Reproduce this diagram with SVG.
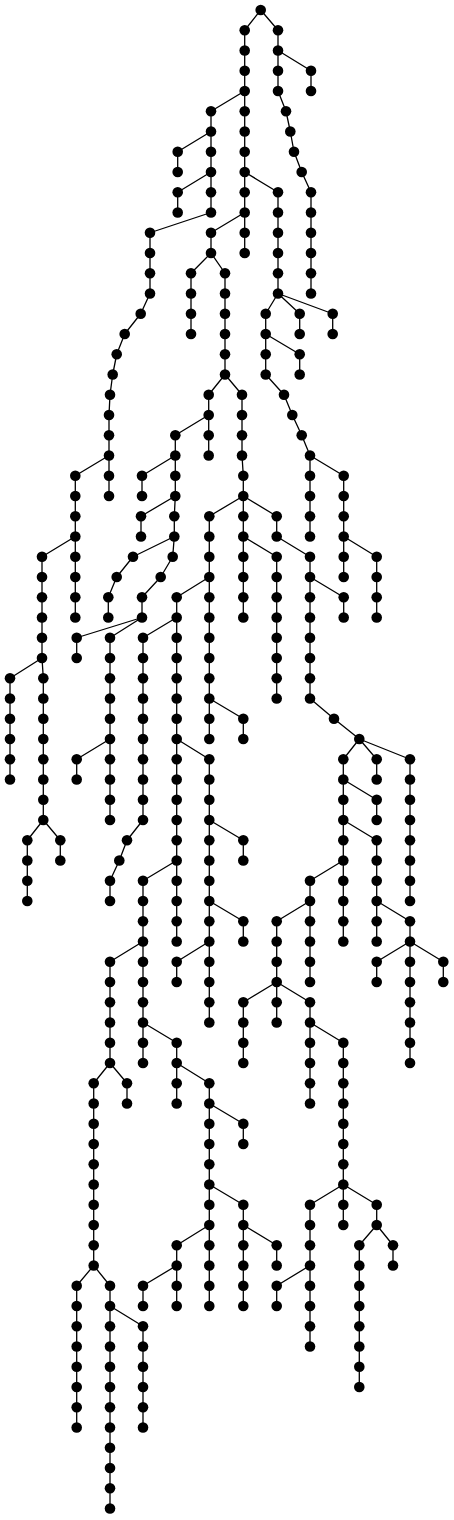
<svg xmlns="http://www.w3.org/2000/svg" width="454" height="1520" viewBox="0 0 454 1520">
<style>
.e polyline{fill:none;stroke:#000;stroke-width:1.3;stroke-linejoin:round}
.n circle{fill:#000}
</style>
<rect width="454" height="1520" fill="#fff"/>
<g id="connectors" class="e">
<polyline points="260.7,10 244.7,30.25 244.7,253"/>
<polyline points="260.7,10 278,30.25 278,91 286,111.25 290.3,131.5 294,151.75 301.7,172 311,192.25 311,293.5"/>
<polyline points="278,50.5 311,70.75 311,91"/>
<polyline points="244.7,91 211,111.25 211,212.5 150,232.75 150,293.5 140.7,313.75 124.7,334 116.7,354.25 112.7,374.5 110,394.75 109,415 109,496"/>
<polyline points="211,131.5 177.7,151.75 177.7,172"/>
<polyline points="211,172 177.7,192.25 177.7,212.5"/>
<polyline points="109,455.5 75.3,475.75 75.3,617.5"/>
<polyline points="75.3,536.5 42,556.75 42,658 43.3,678.25 43.3,820 60.3,840.25 60.3,860.5"/>
<polyline points="42,658 10,678.25 10,779.5"/>
<polyline points="43.3,820 27.3,840.25 27.3,901"/>
<polyline points="244.7,172 278,192.25 278,293.5 265.7,313.75 265.7,374.5 284,394.75 292.3,415 301.7,435.25 310,455.5 310,536.5"/>
<polyline points="278,293.5 299.7,313.75 299.7,334"/>
<polyline points="278,293.5 332.7,313.75 332.7,334"/>
<polyline points="265.7,334 299.7,354.25 299.7,374.5"/>
<polyline points="310,455.5 343.7,475.75 343.7,577"/>
<polyline points="343.7,536.5 376.7,556.75 376.7,617.5"/>
<polyline points="244.7,212.5 211,232.75 211,253 225,273.25 225,374.5 242,394.75 242,455.5 243.3,475.75 243.3,617.5"/>
<polyline points="211,253 191,273.25 191,334"/>
<polyline points="225,374.5 208.7,394.75 208.7,455.5"/>
<polyline points="208.7,415 175.3,435.25 175.3,496 174.3,516.25 174.3,536.5 172.7,556.75 160.7,577 142,597.25 142,617.5 110,637.75 110,820"/>
<polyline points="175.3,455.5 142,475.75 142,496"/>
<polyline points="175.3,496 141,516.25 141,536.5"/>
<polyline points="174.3,536.5 133,556.75 116.7,577 108.3,597.25 108.3,617.5"/>
<polyline points="142,617.5 76.7,637.75 76.7,658"/>
<polyline points="110,739 76.7,759.25 76.7,779.5"/>
<polyline points="243.3,496 209.3,516.25 209.3,739"/>
<polyline points="209.3,698.5 243.3,718.75 243.3,739"/>
<polyline points="209.3,577 176.7,597.25 176.7,941.5"/>
<polyline points="176.7,617.5 143,637.75 143,820 127,840.25 119.3,860.5 110,880.75 110,901"/>
<polyline points="176.7,739 209.3,759.25 209.3,1022.5"/>
<polyline points="209.3,820 243.3,840.25 243.3,860.5"/>
<polyline points="209.3,901 243.3,921.25 243.3,941.5"/>
<polyline points="209.3,941.5 176.7,961.75 176.7,982"/>
<polyline points="176.7,860.5 143,880.75 143,1063"/>
<polyline points="143,941.5 110,961.75 110,1063 93.7,1083.25 93.7,1265.5 110,1285.75 110,1508.5"/>
<polyline points="110,1063 127,1083.25 127,1103.5"/>
<polyline points="93.7,1265.5 76.7,1285.75 76.7,1427.5"/>
<polyline points="110,1306 143,1326.25 143,1427.5"/>
<polyline points="143,1022.5 176.7,1042.75 176.7,1063 209.3,1083.25 209.3,1306"/>
<polyline points="176.7,1063 176.7,1103.5"/>
<polyline points="209.3,1103.5 243.3,1123.75 243.3,1144"/>
<polyline points="209.3,1184.5 243.3,1204.75 243.3,1306"/>
<polyline points="243.3,1225 276.7,1245.25 276.7,1265.5"/>
<polyline points="209.3,1225 176.7,1245.25 176.7,1306"/>
<polyline points="176.7,1265.5 143,1285.75 143,1306"/>
<polyline points="243.3,496 276.7,516.25 276.7,536.5 310,556.75 310,698.5 334,718.75 359.3,739 376.7,759.25 376.7,779.5"/>
<polyline points="243.3,536.5 276.7,556.75 276.7,698.5"/>
<polyline points="310,577 343.7,597.25 343.7,617.5"/>
<polyline points="359.3,739 410,759.25 410,901"/>
<polyline points="359.3,739 343.3,759.25 343.3,941.5"/>
<polyline points="343.3,779.5 376.7,799.75 376.7,820"/>
<polyline points="343.3,820 376.7,840.25 376.7,941.5"/>
<polyline points="376.7,901 410,921.25 410,1063"/>
<polyline points="410,941.5 376.7,961.75 376.7,982"/>
<polyline points="410,941.5 443.3,961.75 443.3,982"/>
<polyline points="343.3,860.5 310,880.75 310,982"/>
<polyline points="310,901 276.7,921.25 276.7,1022.5"/>
<polyline points="276.7,982 243.3,1002.25 243.3,1063"/>
<polyline points="276.7,982 310,1002.25 310,1103.5"/>
<polyline points="310,1022.5 343.3,1042.75 343.3,1225"/>
<polyline points="343.3,1184.5 310,1204.75 310,1346.5"/>
<polyline points="310,1265.5 276.7,1285.75 276.7,1306"/>
<polyline points="343.3,1184.5 376.7,1204.75 376.7,1225 359.3,1245.25 359.3,1387"/>
<polyline points="376.7,1225 393,1245.25 393,1265.5"/>
</g>
<g id="nodes" class="n">
<g id="n0"><circle cx="260.7" cy="10" r="5.3"/></g>
<g id="n1"><circle cx="244.7" cy="30.25" r="5.3"/></g>
<g id="n2"><circle cx="244.7" cy="50.5" r="5.3"/></g>
<g id="n3"><circle cx="244.7" cy="70.75" r="5.3"/></g>
<g id="n4"><circle cx="244.7" cy="91" r="5.3"/></g>
<g id="n5"><circle cx="244.7" cy="111.25" r="5.3"/></g>
<g id="n6"><circle cx="244.7" cy="131.5" r="5.3"/></g>
<g id="n7"><circle cx="244.7" cy="151.75" r="5.3"/></g>
<g id="n8"><circle cx="244.7" cy="172" r="5.3"/></g>
<g id="n9"><circle cx="244.7" cy="192.25" r="5.3"/></g>
<g id="n10"><circle cx="244.7" cy="212.5" r="5.3"/></g>
<g id="n11"><circle cx="244.7" cy="232.75" r="5.3"/></g>
<g id="n12"><circle cx="244.7" cy="253" r="5.3"/></g>
<g id="n13"><circle cx="278" cy="30.25" r="5.3"/></g>
<g id="n14"><circle cx="278" cy="50.5" r="5.3"/></g>
<g id="n15"><circle cx="278" cy="70.75" r="5.3"/></g>
<g id="n16"><circle cx="278" cy="91" r="5.3"/></g>
<g id="n17"><circle cx="286" cy="111.25" r="5.3"/></g>
<g id="n18"><circle cx="290.3" cy="131.5" r="5.3"/></g>
<g id="n19"><circle cx="294" cy="151.75" r="5.3"/></g>
<g id="n20"><circle cx="301.7" cy="172" r="5.3"/></g>
<g id="n21"><circle cx="311" cy="192.25" r="5.3"/></g>
<g id="n22"><circle cx="311" cy="212.5" r="5.3"/></g>
<g id="n23"><circle cx="311" cy="232.75" r="5.3"/></g>
<g id="n24"><circle cx="311" cy="253" r="5.3"/></g>
<g id="n25"><circle cx="311" cy="273.25" r="5.3"/></g>
<g id="n26"><circle cx="311" cy="293.5" r="5.3"/></g>
<g id="n27"><circle cx="311" cy="70.75" r="5.3"/></g>
<g id="n28"><circle cx="311" cy="91" r="5.3"/></g>
<g id="n29"><circle cx="211" cy="111.25" r="5.3"/></g>
<g id="n30"><circle cx="211" cy="131.5" r="5.3"/></g>
<g id="n31"><circle cx="211" cy="151.75" r="5.3"/></g>
<g id="n32"><circle cx="211" cy="172" r="5.3"/></g>
<g id="n33"><circle cx="211" cy="192.25" r="5.3"/></g>
<g id="n34"><circle cx="211" cy="212.5" r="5.3"/></g>
<g id="n35"><circle cx="150" cy="232.75" r="5.3"/></g>
<g id="n36"><circle cx="150" cy="253" r="5.3"/></g>
<g id="n37"><circle cx="150" cy="273.25" r="5.3"/></g>
<g id="n38"><circle cx="150" cy="293.5" r="5.3"/></g>
<g id="n39"><circle cx="140.7" cy="313.75" r="5.3"/></g>
<g id="n40"><circle cx="124.7" cy="334" r="5.3"/></g>
<g id="n41"><circle cx="116.7" cy="354.25" r="5.3"/></g>
<g id="n42"><circle cx="112.7" cy="374.5" r="5.3"/></g>
<g id="n43"><circle cx="110" cy="394.75" r="5.3"/></g>
<g id="n44"><circle cx="109" cy="415" r="5.3"/></g>
<g id="n45"><circle cx="109" cy="435.25" r="5.3"/></g>
<g id="n46"><circle cx="109" cy="455.5" r="5.3"/></g>
<g id="n47"><circle cx="109" cy="475.75" r="5.3"/></g>
<g id="n48"><circle cx="109" cy="496" r="5.3"/></g>
<g id="n49"><circle cx="177.7" cy="151.75" r="5.3"/></g>
<g id="n50"><circle cx="177.7" cy="172" r="5.3"/></g>
<g id="n51"><circle cx="177.7" cy="192.25" r="5.3"/></g>
<g id="n52"><circle cx="177.7" cy="212.5" r="5.3"/></g>
<g id="n53"><circle cx="75.3" cy="475.75" r="5.3"/></g>
<g id="n54"><circle cx="75.3" cy="496" r="5.3"/></g>
<g id="n55"><circle cx="75.3" cy="516.25" r="5.3"/></g>
<g id="n56"><circle cx="75.3" cy="536.5" r="5.3"/></g>
<g id="n57"><circle cx="75.3" cy="556.75" r="5.3"/></g>
<g id="n58"><circle cx="75.3" cy="577" r="5.3"/></g>
<g id="n59"><circle cx="75.3" cy="597.25" r="5.3"/></g>
<g id="n60"><circle cx="75.3" cy="617.5" r="5.3"/></g>
<g id="n61"><circle cx="42" cy="556.75" r="5.3"/></g>
<g id="n62"><circle cx="42" cy="577" r="5.3"/></g>
<g id="n63"><circle cx="42" cy="597.25" r="5.3"/></g>
<g id="n64"><circle cx="42" cy="617.5" r="5.3"/></g>
<g id="n65"><circle cx="42" cy="637.75" r="5.3"/></g>
<g id="n66"><circle cx="42" cy="658" r="5.3"/></g>
<g id="n67"><circle cx="43.3" cy="678.25" r="5.3"/></g>
<g id="n68"><circle cx="43.3" cy="698.5" r="5.3"/></g>
<g id="n69"><circle cx="43.3" cy="718.75" r="5.3"/></g>
<g id="n70"><circle cx="43.3" cy="739" r="5.3"/></g>
<g id="n71"><circle cx="43.3" cy="759.25" r="5.3"/></g>
<g id="n72"><circle cx="43.3" cy="779.5" r="5.3"/></g>
<g id="n73"><circle cx="43.3" cy="799.75" r="5.3"/></g>
<g id="n74"><circle cx="43.3" cy="820" r="5.3"/></g>
<g id="n75"><circle cx="60.3" cy="840.25" r="5.3"/></g>
<g id="n76"><circle cx="60.3" cy="860.5" r="5.3"/></g>
<g id="n77"><circle cx="10" cy="678.25" r="5.3"/></g>
<g id="n78"><circle cx="10" cy="698.5" r="5.3"/></g>
<g id="n79"><circle cx="10" cy="718.75" r="5.3"/></g>
<g id="n80"><circle cx="10" cy="739" r="5.3"/></g>
<g id="n81"><circle cx="10" cy="759.25" r="5.3"/></g>
<g id="n82"><circle cx="10" cy="779.5" r="5.3"/></g>
<g id="n83"><circle cx="27.3" cy="840.25" r="5.3"/></g>
<g id="n84"><circle cx="27.3" cy="860.5" r="5.3"/></g>
<g id="n85"><circle cx="27.3" cy="880.75" r="5.3"/></g>
<g id="n86"><circle cx="27.3" cy="901" r="5.3"/></g>
<g id="n87"><circle cx="278" cy="192.25" r="5.3"/></g>
<g id="n88"><circle cx="278" cy="212.5" r="5.3"/></g>
<g id="n89"><circle cx="278" cy="232.75" r="5.3"/></g>
<g id="n90"><circle cx="278" cy="253" r="5.3"/></g>
<g id="n91"><circle cx="278" cy="273.25" r="5.3"/></g>
<g id="n92"><circle cx="278" cy="293.5" r="5.3"/></g>
<g id="n93"><circle cx="265.7" cy="313.75" r="5.3"/></g>
<g id="n94"><circle cx="265.7" cy="334" r="5.3"/></g>
<g id="n95"><circle cx="265.7" cy="354.25" r="5.3"/></g>
<g id="n96"><circle cx="265.7" cy="374.5" r="5.3"/></g>
<g id="n97"><circle cx="284" cy="394.75" r="5.3"/></g>
<g id="n98"><circle cx="292.3" cy="415" r="5.3"/></g>
<g id="n99"><circle cx="301.7" cy="435.25" r="5.3"/></g>
<g id="n100"><circle cx="310" cy="455.5" r="5.3"/></g>
<g id="n101"><circle cx="310" cy="475.75" r="5.3"/></g>
<g id="n102"><circle cx="310" cy="496" r="5.3"/></g>
<g id="n103"><circle cx="310" cy="516.25" r="5.3"/></g>
<g id="n104"><circle cx="310" cy="536.5" r="5.3"/></g>
<g id="n105"><circle cx="299.7" cy="313.75" r="5.3"/></g>
<g id="n106"><circle cx="299.7" cy="334" r="5.3"/></g>
<g id="n107"><circle cx="332.7" cy="313.75" r="5.3"/></g>
<g id="n108"><circle cx="332.7" cy="334" r="5.3"/></g>
<g id="n109"><circle cx="299.7" cy="354.25" r="5.3"/></g>
<g id="n110"><circle cx="299.7" cy="374.5" r="5.3"/></g>
<g id="n111"><circle cx="343.7" cy="475.75" r="5.3"/></g>
<g id="n112"><circle cx="343.7" cy="496" r="5.3"/></g>
<g id="n113"><circle cx="343.7" cy="516.25" r="5.3"/></g>
<g id="n114"><circle cx="343.7" cy="536.5" r="5.3"/></g>
<g id="n115"><circle cx="343.7" cy="556.75" r="5.3"/></g>
<g id="n116"><circle cx="343.7" cy="577" r="5.3"/></g>
<g id="n117"><circle cx="376.7" cy="556.75" r="5.3"/></g>
<g id="n118"><circle cx="376.7" cy="577" r="5.3"/></g>
<g id="n119"><circle cx="376.7" cy="597.25" r="5.3"/></g>
<g id="n120"><circle cx="376.7" cy="617.5" r="5.3"/></g>
<g id="n121"><circle cx="211" cy="232.75" r="5.3"/></g>
<g id="n122"><circle cx="211" cy="253" r="5.3"/></g>
<g id="n123"><circle cx="225" cy="273.25" r="5.3"/></g>
<g id="n124"><circle cx="225" cy="293.5" r="5.3"/></g>
<g id="n125"><circle cx="225" cy="313.75" r="5.3"/></g>
<g id="n126"><circle cx="225" cy="334" r="5.3"/></g>
<g id="n127"><circle cx="225" cy="354.25" r="5.3"/></g>
<g id="n128"><circle cx="225" cy="374.5" r="5.3"/></g>
<g id="n129"><circle cx="242" cy="394.75" r="5.3"/></g>
<g id="n130"><circle cx="242" cy="415" r="5.3"/></g>
<g id="n131"><circle cx="242" cy="435.25" r="5.3"/></g>
<g id="n132"><circle cx="242" cy="455.5" r="5.3"/></g>
<g id="n133"><circle cx="243.3" cy="475.75" r="5.3"/></g>
<g id="n134"><circle cx="243.3" cy="496" r="5.3"/></g>
<g id="n135"><circle cx="243.3" cy="516.25" r="5.3"/></g>
<g id="n136"><circle cx="243.3" cy="536.5" r="5.3"/></g>
<g id="n137"><circle cx="243.3" cy="556.75" r="5.3"/></g>
<g id="n138"><circle cx="243.3" cy="577" r="5.3"/></g>
<g id="n139"><circle cx="243.3" cy="597.25" r="5.3"/></g>
<g id="n140"><circle cx="243.3" cy="617.5" r="5.3"/></g>
<g id="n141"><circle cx="191" cy="273.25" r="5.3"/></g>
<g id="n142"><circle cx="191" cy="293.5" r="5.3"/></g>
<g id="n143"><circle cx="191" cy="313.75" r="5.3"/></g>
<g id="n144"><circle cx="191" cy="334" r="5.3"/></g>
<g id="n145"><circle cx="208.7" cy="394.75" r="5.3"/></g>
<g id="n146"><circle cx="208.7" cy="415" r="5.3"/></g>
<g id="n147"><circle cx="208.7" cy="435.25" r="5.3"/></g>
<g id="n148"><circle cx="208.7" cy="455.5" r="5.3"/></g>
<g id="n149"><circle cx="175.3" cy="435.25" r="5.3"/></g>
<g id="n150"><circle cx="175.3" cy="455.5" r="5.3"/></g>
<g id="n151"><circle cx="175.3" cy="475.75" r="5.3"/></g>
<g id="n152"><circle cx="175.3" cy="496" r="5.3"/></g>
<g id="n153"><circle cx="174.3" cy="516.25" r="5.3"/></g>
<g id="n154"><circle cx="174.3" cy="536.5" r="5.3"/></g>
<g id="n155"><circle cx="172.7" cy="556.75" r="5.3"/></g>
<g id="n156"><circle cx="160.7" cy="577" r="5.3"/></g>
<g id="n157"><circle cx="142" cy="597.25" r="5.3"/></g>
<g id="n158"><circle cx="142" cy="617.5" r="5.3"/></g>
<g id="n159"><circle cx="110" cy="637.75" r="5.3"/></g>
<g id="n160"><circle cx="110" cy="658" r="5.3"/></g>
<g id="n161"><circle cx="110" cy="678.25" r="5.3"/></g>
<g id="n162"><circle cx="110" cy="698.5" r="5.3"/></g>
<g id="n163"><circle cx="110" cy="718.75" r="5.3"/></g>
<g id="n164"><circle cx="110" cy="739" r="5.3"/></g>
<g id="n165"><circle cx="110" cy="759.25" r="5.3"/></g>
<g id="n166"><circle cx="110" cy="779.5" r="5.3"/></g>
<g id="n167"><circle cx="110" cy="799.75" r="5.3"/></g>
<g id="n168"><circle cx="110" cy="820" r="5.3"/></g>
<g id="n169"><circle cx="142" cy="475.75" r="5.3"/></g>
<g id="n170"><circle cx="142" cy="496" r="5.3"/></g>
<g id="n171"><circle cx="141" cy="516.25" r="5.3"/></g>
<g id="n172"><circle cx="141" cy="536.5" r="5.3"/></g>
<g id="n173"><circle cx="133" cy="556.75" r="5.3"/></g>
<g id="n174"><circle cx="116.7" cy="577" r="5.3"/></g>
<g id="n175"><circle cx="108.3" cy="597.25" r="5.3"/></g>
<g id="n176"><circle cx="108.3" cy="617.5" r="5.3"/></g>
<g id="n177"><circle cx="76.7" cy="637.75" r="5.3"/></g>
<g id="n178"><circle cx="76.7" cy="658" r="5.3"/></g>
<g id="n179"><circle cx="76.7" cy="759.25" r="5.3"/></g>
<g id="n180"><circle cx="76.7" cy="779.5" r="5.3"/></g>
<g id="n181"><circle cx="209.3" cy="516.25" r="5.3"/></g>
<g id="n182"><circle cx="209.3" cy="536.5" r="5.3"/></g>
<g id="n183"><circle cx="209.3" cy="556.75" r="5.3"/></g>
<g id="n184"><circle cx="209.3" cy="577" r="5.3"/></g>
<g id="n185"><circle cx="209.3" cy="597.25" r="5.3"/></g>
<g id="n186"><circle cx="209.3" cy="617.5" r="5.3"/></g>
<g id="n187"><circle cx="209.3" cy="637.75" r="5.3"/></g>
<g id="n188"><circle cx="209.3" cy="658" r="5.3"/></g>
<g id="n189"><circle cx="209.3" cy="678.25" r="5.3"/></g>
<g id="n190"><circle cx="209.3" cy="698.5" r="5.3"/></g>
<g id="n191"><circle cx="209.3" cy="718.75" r="5.3"/></g>
<g id="n192"><circle cx="209.3" cy="739" r="5.3"/></g>
<g id="n193"><circle cx="243.3" cy="718.75" r="5.3"/></g>
<g id="n194"><circle cx="243.3" cy="739" r="5.3"/></g>
<g id="n195"><circle cx="176.7" cy="597.25" r="5.3"/></g>
<g id="n196"><circle cx="176.7" cy="617.5" r="5.3"/></g>
<g id="n197"><circle cx="176.7" cy="637.75" r="5.3"/></g>
<g id="n198"><circle cx="176.7" cy="658" r="5.3"/></g>
<g id="n199"><circle cx="176.7" cy="678.25" r="5.3"/></g>
<g id="n200"><circle cx="176.7" cy="698.5" r="5.3"/></g>
<g id="n201"><circle cx="176.7" cy="718.75" r="5.3"/></g>
<g id="n202"><circle cx="176.7" cy="739" r="5.3"/></g>
<g id="n203"><circle cx="176.7" cy="759.25" r="5.3"/></g>
<g id="n204"><circle cx="176.7" cy="779.5" r="5.3"/></g>
<g id="n205"><circle cx="176.7" cy="799.75" r="5.3"/></g>
<g id="n206"><circle cx="176.7" cy="820" r="5.3"/></g>
<g id="n207"><circle cx="176.7" cy="840.25" r="5.3"/></g>
<g id="n208"><circle cx="176.7" cy="860.5" r="5.3"/></g>
<g id="n209"><circle cx="176.7" cy="880.75" r="5.3"/></g>
<g id="n210"><circle cx="176.7" cy="901" r="5.3"/></g>
<g id="n211"><circle cx="176.7" cy="921.25" r="5.3"/></g>
<g id="n212"><circle cx="176.7" cy="941.5" r="5.3"/></g>
<g id="n213"><circle cx="143" cy="637.75" r="5.3"/></g>
<g id="n214"><circle cx="143" cy="658" r="5.3"/></g>
<g id="n215"><circle cx="143" cy="678.25" r="5.3"/></g>
<g id="n216"><circle cx="143" cy="698.5" r="5.3"/></g>
<g id="n217"><circle cx="143" cy="718.75" r="5.3"/></g>
<g id="n218"><circle cx="143" cy="739" r="5.3"/></g>
<g id="n219"><circle cx="143" cy="759.25" r="5.3"/></g>
<g id="n220"><circle cx="143" cy="779.5" r="5.3"/></g>
<g id="n221"><circle cx="143" cy="799.75" r="5.3"/></g>
<g id="n222"><circle cx="143" cy="820" r="5.3"/></g>
<g id="n223"><circle cx="127" cy="840.25" r="5.3"/></g>
<g id="n224"><circle cx="119.3" cy="860.5" r="5.3"/></g>
<g id="n225"><circle cx="110" cy="880.75" r="5.3"/></g>
<g id="n226"><circle cx="110" cy="901" r="5.3"/></g>
<g id="n227"><circle cx="209.3" cy="759.25" r="5.3"/></g>
<g id="n228"><circle cx="209.3" cy="779.5" r="5.3"/></g>
<g id="n229"><circle cx="209.3" cy="799.75" r="5.3"/></g>
<g id="n230"><circle cx="209.3" cy="820" r="5.3"/></g>
<g id="n231"><circle cx="209.3" cy="840.25" r="5.3"/></g>
<g id="n232"><circle cx="209.3" cy="860.5" r="5.3"/></g>
<g id="n233"><circle cx="209.3" cy="880.75" r="5.3"/></g>
<g id="n234"><circle cx="209.3" cy="901" r="5.3"/></g>
<g id="n235"><circle cx="209.3" cy="921.25" r="5.3"/></g>
<g id="n236"><circle cx="209.3" cy="941.5" r="5.3"/></g>
<g id="n237"><circle cx="209.3" cy="961.75" r="5.3"/></g>
<g id="n238"><circle cx="209.3" cy="982" r="5.3"/></g>
<g id="n239"><circle cx="209.3" cy="1002.25" r="5.3"/></g>
<g id="n240"><circle cx="209.3" cy="1022.5" r="5.3"/></g>
<g id="n241"><circle cx="243.3" cy="840.25" r="5.3"/></g>
<g id="n242"><circle cx="243.3" cy="860.5" r="5.3"/></g>
<g id="n243"><circle cx="243.3" cy="921.25" r="5.3"/></g>
<g id="n244"><circle cx="243.3" cy="941.5" r="5.3"/></g>
<g id="n245"><circle cx="176.7" cy="961.75" r="5.3"/></g>
<g id="n246"><circle cx="176.7" cy="982" r="5.3"/></g>
<g id="n247"><circle cx="143" cy="880.75" r="5.3"/></g>
<g id="n248"><circle cx="143" cy="901" r="5.3"/></g>
<g id="n249"><circle cx="143" cy="921.25" r="5.3"/></g>
<g id="n250"><circle cx="143" cy="941.5" r="5.3"/></g>
<g id="n251"><circle cx="143" cy="961.75" r="5.3"/></g>
<g id="n252"><circle cx="143" cy="982" r="5.3"/></g>
<g id="n253"><circle cx="143" cy="1002.25" r="5.3"/></g>
<g id="n254"><circle cx="143" cy="1022.5" r="5.3"/></g>
<g id="n255"><circle cx="143" cy="1042.75" r="5.3"/></g>
<g id="n256"><circle cx="143" cy="1063" r="5.3"/></g>
<g id="n257"><circle cx="110" cy="961.75" r="5.3"/></g>
<g id="n258"><circle cx="110" cy="982" r="5.3"/></g>
<g id="n259"><circle cx="110" cy="1002.25" r="5.3"/></g>
<g id="n260"><circle cx="110" cy="1022.5" r="5.3"/></g>
<g id="n261"><circle cx="110" cy="1042.75" r="5.3"/></g>
<g id="n262"><circle cx="110" cy="1063" r="5.3"/></g>
<g id="n263"><circle cx="93.7" cy="1083.25" r="5.3"/></g>
<g id="n264"><circle cx="93.7" cy="1103.5" r="5.3"/></g>
<g id="n265"><circle cx="93.7" cy="1123.75" r="5.3"/></g>
<g id="n266"><circle cx="93.7" cy="1144" r="5.3"/></g>
<g id="n267"><circle cx="93.7" cy="1164.25" r="5.3"/></g>
<g id="n268"><circle cx="93.7" cy="1184.5" r="5.3"/></g>
<g id="n269"><circle cx="93.7" cy="1204.75" r="5.3"/></g>
<g id="n270"><circle cx="93.7" cy="1225" r="5.3"/></g>
<g id="n271"><circle cx="93.7" cy="1245.25" r="5.3"/></g>
<g id="n272"><circle cx="93.7" cy="1265.5" r="5.3"/></g>
<g id="n273"><circle cx="110" cy="1285.75" r="5.3"/></g>
<g id="n274"><circle cx="110" cy="1306" r="5.3"/></g>
<g id="n275"><circle cx="110" cy="1326.25" r="5.3"/></g>
<g id="n276"><circle cx="110" cy="1346.5" r="5.3"/></g>
<g id="n277"><circle cx="110" cy="1366.75" r="5.3"/></g>
<g id="n278"><circle cx="110" cy="1387" r="5.3"/></g>
<g id="n279"><circle cx="110" cy="1407.25" r="5.3"/></g>
<g id="n280"><circle cx="110" cy="1427.5" r="5.3"/></g>
<g id="n281"><circle cx="110" cy="1447.75" r="5.3"/></g>
<g id="n282"><circle cx="110" cy="1468" r="5.3"/></g>
<g id="n283"><circle cx="110" cy="1488.25" r="5.3"/></g>
<g id="n284"><circle cx="110" cy="1508.5" r="5.3"/></g>
<g id="n285"><circle cx="127" cy="1083.25" r="5.3"/></g>
<g id="n286"><circle cx="127" cy="1103.5" r="5.3"/></g>
<g id="n287"><circle cx="76.7" cy="1285.75" r="5.3"/></g>
<g id="n288"><circle cx="76.7" cy="1306" r="5.3"/></g>
<g id="n289"><circle cx="76.7" cy="1326.25" r="5.3"/></g>
<g id="n290"><circle cx="76.7" cy="1346.5" r="5.3"/></g>
<g id="n291"><circle cx="76.7" cy="1366.75" r="5.3"/></g>
<g id="n292"><circle cx="76.7" cy="1387" r="5.3"/></g>
<g id="n293"><circle cx="76.7" cy="1407.25" r="5.3"/></g>
<g id="n294"><circle cx="76.7" cy="1427.5" r="5.3"/></g>
<g id="n295"><circle cx="143" cy="1326.25" r="5.3"/></g>
<g id="n296"><circle cx="143" cy="1346.5" r="5.3"/></g>
<g id="n297"><circle cx="143" cy="1366.75" r="5.3"/></g>
<g id="n298"><circle cx="143" cy="1387" r="5.3"/></g>
<g id="n299"><circle cx="143" cy="1407.25" r="5.3"/></g>
<g id="n300"><circle cx="143" cy="1427.5" r="5.3"/></g>
<g id="n301"><circle cx="176.7" cy="1042.75" r="5.3"/></g>
<g id="n302"><circle cx="176.7" cy="1063" r="5.3"/></g>
<g id="n303"><circle cx="209.3" cy="1083.25" r="5.3"/></g>
<g id="n304"><circle cx="209.3" cy="1103.5" r="5.3"/></g>
<g id="n305"><circle cx="209.3" cy="1123.75" r="5.3"/></g>
<g id="n306"><circle cx="209.3" cy="1144" r="5.3"/></g>
<g id="n307"><circle cx="209.3" cy="1164.25" r="5.3"/></g>
<g id="n308"><circle cx="209.3" cy="1184.5" r="5.3"/></g>
<g id="n309"><circle cx="209.3" cy="1204.75" r="5.3"/></g>
<g id="n310"><circle cx="209.3" cy="1225" r="5.3"/></g>
<g id="n311"><circle cx="209.3" cy="1245.25" r="5.3"/></g>
<g id="n312"><circle cx="209.3" cy="1265.5" r="5.3"/></g>
<g id="n313"><circle cx="209.3" cy="1285.75" r="5.3"/></g>
<g id="n314"><circle cx="209.3" cy="1306" r="5.3"/></g>
<g id="n315"><circle cx="176.7" cy="1083.25" r="5.3"/></g>
<g id="n316"><circle cx="176.7" cy="1103.5" r="5.3"/></g>
<g id="n317"><circle cx="243.3" cy="1123.75" r="5.3"/></g>
<g id="n318"><circle cx="243.3" cy="1144" r="5.3"/></g>
<g id="n319"><circle cx="243.3" cy="1204.75" r="5.3"/></g>
<g id="n320"><circle cx="243.3" cy="1225" r="5.3"/></g>
<g id="n321"><circle cx="243.3" cy="1245.25" r="5.3"/></g>
<g id="n322"><circle cx="243.3" cy="1265.5" r="5.3"/></g>
<g id="n323"><circle cx="243.3" cy="1285.75" r="5.3"/></g>
<g id="n324"><circle cx="243.3" cy="1306" r="5.3"/></g>
<g id="n325"><circle cx="276.7" cy="1245.25" r="5.3"/></g>
<g id="n326"><circle cx="276.7" cy="1265.5" r="5.3"/></g>
<g id="n327"><circle cx="176.7" cy="1245.25" r="5.3"/></g>
<g id="n328"><circle cx="176.7" cy="1265.5" r="5.3"/></g>
<g id="n329"><circle cx="176.7" cy="1285.75" r="5.3"/></g>
<g id="n330"><circle cx="176.7" cy="1306" r="5.3"/></g>
<g id="n331"><circle cx="143" cy="1285.75" r="5.3"/></g>
<g id="n332"><circle cx="143" cy="1306" r="5.3"/></g>
<g id="n333"><circle cx="276.7" cy="516.25" r="5.3"/></g>
<g id="n334"><circle cx="276.7" cy="536.5" r="5.3"/></g>
<g id="n335"><circle cx="310" cy="556.75" r="5.3"/></g>
<g id="n336"><circle cx="310" cy="577" r="5.3"/></g>
<g id="n337"><circle cx="310" cy="597.25" r="5.3"/></g>
<g id="n338"><circle cx="310" cy="617.5" r="5.3"/></g>
<g id="n339"><circle cx="310" cy="637.75" r="5.3"/></g>
<g id="n340"><circle cx="310" cy="658" r="5.3"/></g>
<g id="n341"><circle cx="310" cy="678.25" r="5.3"/></g>
<g id="n342"><circle cx="310" cy="698.5" r="5.3"/></g>
<g id="n343"><circle cx="334" cy="718.75" r="5.3"/></g>
<g id="n344"><circle cx="359.3" cy="739" r="5.3"/></g>
<g id="n345"><circle cx="376.7" cy="759.25" r="5.3"/></g>
<g id="n346"><circle cx="376.7" cy="779.5" r="5.3"/></g>
<g id="n347"><circle cx="276.7" cy="556.75" r="5.3"/></g>
<g id="n348"><circle cx="276.7" cy="577" r="5.3"/></g>
<g id="n349"><circle cx="276.7" cy="597.25" r="5.3"/></g>
<g id="n350"><circle cx="276.7" cy="617.5" r="5.3"/></g>
<g id="n351"><circle cx="276.7" cy="637.75" r="5.3"/></g>
<g id="n352"><circle cx="276.7" cy="658" r="5.3"/></g>
<g id="n353"><circle cx="276.7" cy="678.25" r="5.3"/></g>
<g id="n354"><circle cx="276.7" cy="698.5" r="5.3"/></g>
<g id="n355"><circle cx="343.7" cy="597.25" r="5.3"/></g>
<g id="n356"><circle cx="343.7" cy="617.5" r="5.3"/></g>
<g id="n357"><circle cx="410" cy="759.25" r="5.3"/></g>
<g id="n358"><circle cx="410" cy="779.5" r="5.3"/></g>
<g id="n359"><circle cx="410" cy="799.75" r="5.3"/></g>
<g id="n360"><circle cx="410" cy="820" r="5.3"/></g>
<g id="n361"><circle cx="410" cy="840.25" r="5.3"/></g>
<g id="n362"><circle cx="410" cy="860.5" r="5.3"/></g>
<g id="n363"><circle cx="410" cy="880.75" r="5.3"/></g>
<g id="n364"><circle cx="410" cy="901" r="5.3"/></g>
<g id="n365"><circle cx="343.3" cy="759.25" r="5.3"/></g>
<g id="n366"><circle cx="343.3" cy="779.5" r="5.3"/></g>
<g id="n367"><circle cx="343.3" cy="799.75" r="5.3"/></g>
<g id="n368"><circle cx="343.3" cy="820" r="5.3"/></g>
<g id="n369"><circle cx="343.3" cy="840.25" r="5.3"/></g>
<g id="n370"><circle cx="343.3" cy="860.5" r="5.3"/></g>
<g id="n371"><circle cx="343.3" cy="880.75" r="5.3"/></g>
<g id="n372"><circle cx="343.3" cy="901" r="5.3"/></g>
<g id="n373"><circle cx="343.3" cy="921.25" r="5.3"/></g>
<g id="n374"><circle cx="343.3" cy="941.5" r="5.3"/></g>
<g id="n375"><circle cx="376.7" cy="799.75" r="5.3"/></g>
<g id="n376"><circle cx="376.7" cy="820" r="5.3"/></g>
<g id="n377"><circle cx="376.7" cy="840.25" r="5.3"/></g>
<g id="n378"><circle cx="376.7" cy="860.5" r="5.3"/></g>
<g id="n379"><circle cx="376.7" cy="880.75" r="5.3"/></g>
<g id="n380"><circle cx="376.7" cy="901" r="5.3"/></g>
<g id="n381"><circle cx="376.7" cy="921.25" r="5.3"/></g>
<g id="n382"><circle cx="376.7" cy="941.5" r="5.3"/></g>
<g id="n383"><circle cx="410" cy="921.25" r="5.3"/></g>
<g id="n384"><circle cx="410" cy="941.5" r="5.3"/></g>
<g id="n385"><circle cx="410" cy="961.75" r="5.3"/></g>
<g id="n386"><circle cx="410" cy="982" r="5.3"/></g>
<g id="n387"><circle cx="410" cy="1002.25" r="5.3"/></g>
<g id="n388"><circle cx="410" cy="1022.5" r="5.3"/></g>
<g id="n389"><circle cx="410" cy="1042.75" r="5.3"/></g>
<g id="n390"><circle cx="410" cy="1063" r="5.3"/></g>
<g id="n391"><circle cx="376.7" cy="961.75" r="5.3"/></g>
<g id="n392"><circle cx="376.7" cy="982" r="5.3"/></g>
<g id="n393"><circle cx="443.3" cy="961.75" r="5.3"/></g>
<g id="n394"><circle cx="443.3" cy="982" r="5.3"/></g>
<g id="n395"><circle cx="310" cy="880.75" r="5.3"/></g>
<g id="n396"><circle cx="310" cy="901" r="5.3"/></g>
<g id="n397"><circle cx="310" cy="921.25" r="5.3"/></g>
<g id="n398"><circle cx="310" cy="941.5" r="5.3"/></g>
<g id="n399"><circle cx="310" cy="961.75" r="5.3"/></g>
<g id="n400"><circle cx="310" cy="982" r="5.3"/></g>
<g id="n401"><circle cx="276.7" cy="921.25" r="5.3"/></g>
<g id="n402"><circle cx="276.7" cy="941.5" r="5.3"/></g>
<g id="n403"><circle cx="276.7" cy="961.75" r="5.3"/></g>
<g id="n404"><circle cx="276.7" cy="982" r="5.3"/></g>
<g id="n405"><circle cx="276.7" cy="1002.25" r="5.3"/></g>
<g id="n406"><circle cx="276.7" cy="1022.5" r="5.3"/></g>
<g id="n407"><circle cx="243.3" cy="1002.25" r="5.3"/></g>
<g id="n408"><circle cx="243.3" cy="1022.5" r="5.3"/></g>
<g id="n409"><circle cx="243.3" cy="1042.75" r="5.3"/></g>
<g id="n410"><circle cx="243.3" cy="1063" r="5.3"/></g>
<g id="n411"><circle cx="310" cy="1002.25" r="5.3"/></g>
<g id="n412"><circle cx="310" cy="1022.5" r="5.3"/></g>
<g id="n413"><circle cx="310" cy="1042.75" r="5.3"/></g>
<g id="n414"><circle cx="310" cy="1063" r="5.3"/></g>
<g id="n415"><circle cx="310" cy="1083.25" r="5.3"/></g>
<g id="n416"><circle cx="310" cy="1103.5" r="5.3"/></g>
<g id="n417"><circle cx="343.3" cy="1042.75" r="5.3"/></g>
<g id="n418"><circle cx="343.3" cy="1063" r="5.3"/></g>
<g id="n419"><circle cx="343.3" cy="1083.25" r="5.3"/></g>
<g id="n420"><circle cx="343.3" cy="1103.5" r="5.3"/></g>
<g id="n421"><circle cx="343.3" cy="1123.75" r="5.3"/></g>
<g id="n422"><circle cx="343.3" cy="1144" r="5.3"/></g>
<g id="n423"><circle cx="343.3" cy="1164.25" r="5.3"/></g>
<g id="n424"><circle cx="343.3" cy="1184.5" r="5.3"/></g>
<g id="n425"><circle cx="343.3" cy="1204.75" r="5.3"/></g>
<g id="n426"><circle cx="343.3" cy="1225" r="5.3"/></g>
<g id="n427"><circle cx="310" cy="1204.75" r="5.3"/></g>
<g id="n428"><circle cx="310" cy="1225" r="5.3"/></g>
<g id="n429"><circle cx="310" cy="1245.25" r="5.3"/></g>
<g id="n430"><circle cx="310" cy="1265.5" r="5.3"/></g>
<g id="n431"><circle cx="310" cy="1285.75" r="5.3"/></g>
<g id="n432"><circle cx="310" cy="1306" r="5.3"/></g>
<g id="n433"><circle cx="310" cy="1326.25" r="5.3"/></g>
<g id="n434"><circle cx="310" cy="1346.5" r="5.3"/></g>
<g id="n435"><circle cx="276.7" cy="1285.75" r="5.3"/></g>
<g id="n436"><circle cx="276.7" cy="1306" r="5.3"/></g>
<g id="n437"><circle cx="376.7" cy="1204.75" r="5.3"/></g>
<g id="n438"><circle cx="376.7" cy="1225" r="5.3"/></g>
<g id="n439"><circle cx="359.3" cy="1245.25" r="5.3"/></g>
<g id="n440"><circle cx="359.3" cy="1265.5" r="5.3"/></g>
<g id="n441"><circle cx="359.3" cy="1285.75" r="5.3"/></g>
<g id="n442"><circle cx="359.3" cy="1306" r="5.3"/></g>
<g id="n443"><circle cx="359.3" cy="1326.25" r="5.3"/></g>
<g id="n444"><circle cx="359.3" cy="1346.5" r="5.3"/></g>
<g id="n445"><circle cx="359.3" cy="1366.75" r="5.3"/></g>
<g id="n446"><circle cx="359.3" cy="1387" r="5.3"/></g>
<g id="n447"><circle cx="393" cy="1245.25" r="5.3"/></g>
<g id="n448"><circle cx="393" cy="1265.5" r="5.3"/></g>
</g>
</svg>
